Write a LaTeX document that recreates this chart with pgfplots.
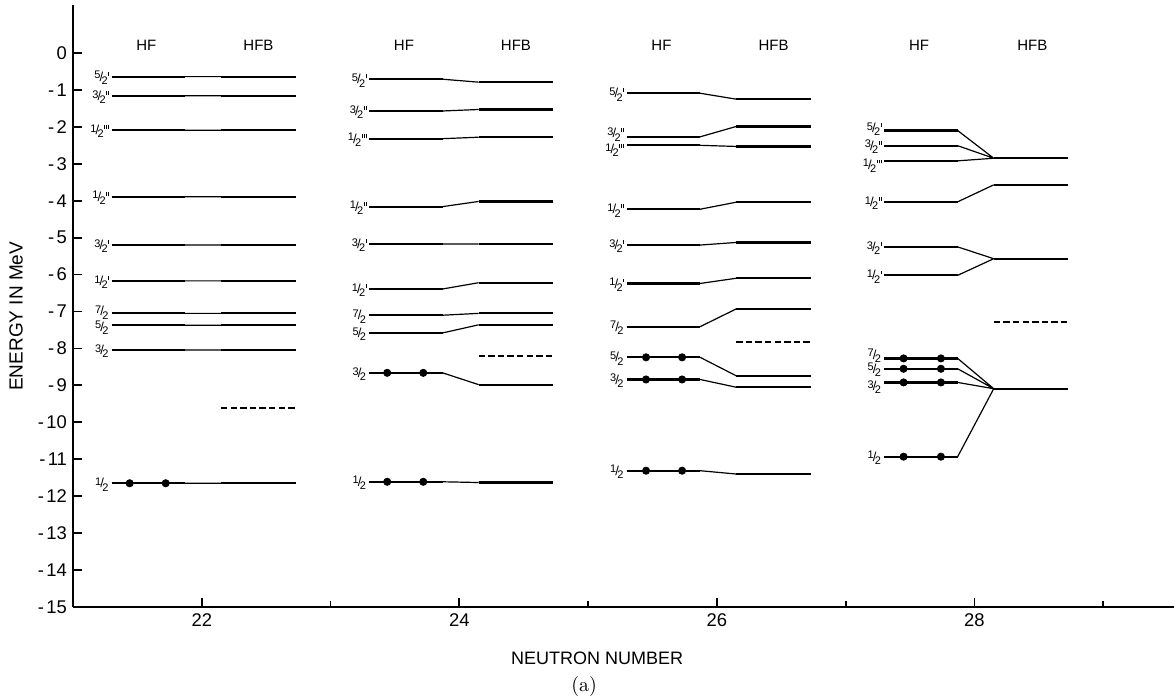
\documentclass[border=0pt]{standalone}
\usepackage{fontspec}
\setsansfont{Liberation Sans}
\usepackage{pgfplots}
\pgfplotsset{compat=1.18}
\usepackage{pgfplotstable}

\newcommand{\pp}{\rule{0.4pt}{1.9pt}}
\newcommand{\pa}{\pp}
\newcommand{\pb}{\pp\kern0.6pt\pp}
\newcommand{\pc}{\pp\kern0.6pt\pp\kern0.6pt\pp}
\newcommand{\fr}[2]{\sffamily\raisebox{1.2pt}{\fontsize{5.5}{5.5}\selectfont #1}\kern-0.45pt{\fontsize{6.5}{6.5}\selectfont /}\kern-0.8pt\raisebox{-1.6pt}{\fontsize{5.5}{5.5}\selectfont 2}\raisebox{2.8pt}{\kern0.2pt#2}}
\newcommand{\lab}[5][0]{\node[anchor=east,inner sep=0pt,xshift=-1.2pt,yshift=-0.6pt,yshift=#1pt] at (axis cs:#2,#3) {\fr{#4}{#5}};}
\newcommand{\m}{-\kern1.2pt}

% horizontal level segments (HF and HFB), nan rows break the line
\pgfplotstableread[row sep=\\]{
x y\\
21.30 -0.64\\ 21.87 -0.64\\ nan nan\\ 22.15 -0.64\\ 22.73 -0.64\\ nan nan\\
21.30 -1.16\\ 21.87 -1.16\\ nan nan\\ 22.15 -1.16\\ 22.73 -1.16\\ nan nan\\
21.30 -2.09\\ 21.87 -2.09\\ nan nan\\ 22.15 -2.09\\ 22.73 -2.09\\ nan nan\\
21.30 -3.89\\ 21.87 -3.89\\ nan nan\\ 22.15 -3.89\\ 22.73 -3.89\\ nan nan\\
21.30 -5.20\\ 21.87 -5.20\\ nan nan\\ 22.15 -5.20\\ 22.73 -5.20\\ nan nan\\
21.30 -6.17\\ 21.87 -6.17\\ nan nan\\ 22.15 -6.17\\ 22.73 -6.17\\ nan nan\\
21.30 -7.05\\ 21.87 -7.05\\ nan nan\\ 22.15 -7.05\\ 22.73 -7.05\\ nan nan\\
21.30 -7.37\\ 21.87 -7.37\\ nan nan\\ 22.15 -7.37\\ 22.73 -7.37\\ nan nan\\
21.30 -8.04\\ 21.87 -8.04\\ nan nan\\ 22.15 -8.04\\ 22.73 -8.04\\ nan nan\\
21.30 -11.65\\ 21.87 -11.65\\ nan nan\\ 22.15 -11.65\\ 22.73 -11.65\\ nan nan\\
23.30 -0.71\\ 23.87 -0.71\\ nan nan\\ 24.15 -0.79\\ 24.73 -0.79\\ nan nan\\
23.30 -1.57\\ 23.87 -1.57\\ nan nan\\ 24.15 -1.53\\ 24.73 -1.53\\ nan nan\\
23.30 -2.32\\ 23.87 -2.32\\ nan nan\\ 24.15 -2.28\\ 24.73 -2.28\\ nan nan\\
23.30 -4.16\\ 23.87 -4.16\\ nan nan\\ 24.15 -4.02\\ 24.73 -4.02\\ nan nan\\
23.30 -5.17\\ 23.87 -5.17\\ nan nan\\ 24.15 -5.17\\ 24.73 -5.17\\ nan nan\\
23.30 -6.39\\ 23.87 -6.39\\ nan nan\\ 24.15 -6.22\\ 24.73 -6.22\\ nan nan\\
23.30 -7.10\\ 23.87 -7.10\\ nan nan\\ 24.15 -7.05\\ 24.73 -7.05\\ nan nan\\
23.30 -7.58\\ 23.87 -7.58\\ nan nan\\ 24.15 -7.36\\ 24.73 -7.36\\ nan nan\\
23.30 -8.66\\ 23.87 -8.66\\ nan nan\\ 24.15 -8.98\\ 24.73 -8.98\\ nan nan\\
23.30 -11.61\\ 23.87 -11.61\\ nan nan\\ 24.15 -11.63\\ 24.73 -11.63\\ nan nan\\
25.30 -1.09\\ 25.87 -1.09\\ nan nan\\ 26.15 -1.25\\ 26.73 -1.25\\ nan nan\\
25.30 -2.27\\ 25.87 -2.27\\ nan nan\\ 26.15 -1.99\\ 26.73 -1.99\\ nan nan\\
25.30 -2.50\\ 25.87 -2.50\\ nan nan\\ 26.15 -2.53\\ 26.73 -2.53\\ nan nan\\
25.30 -4.23\\ 25.87 -4.23\\ nan nan\\ 26.15 -4.04\\ 26.73 -4.04\\ nan nan\\
25.30 -5.20\\ 25.87 -5.20\\ nan nan\\ 26.15 -5.13\\ 26.73 -5.13\\ nan nan\\
25.30 -6.24\\ 25.87 -6.24\\ nan nan\\ 26.15 -6.10\\ 26.73 -6.10\\ nan nan\\
25.30 -7.41\\ 25.87 -7.41\\ nan nan\\ 26.15 -6.93\\ 26.73 -6.93\\ nan nan\\
25.30 -8.24\\ 25.87 -8.24\\ nan nan\\ 26.15 -8.74\\ 26.73 -8.74\\ nan nan\\
25.30 -8.84\\ 25.87 -8.84\\ nan nan\\ 26.15 -9.05\\ 26.73 -9.05\\ nan nan\\
25.30 -11.31\\ 25.87 -11.31\\ nan nan\\ 26.15 -11.40\\ 26.73 -11.40\\ nan nan\\
27.30 -2.10\\ 27.87 -2.10\\ nan nan\\
27.30 -2.51\\ 27.87 -2.51\\ nan nan\\
27.30 -2.92\\ 27.87 -2.92\\ nan nan\\ 28.15 -2.85\\ 28.73 -2.85\\ nan nan\\
27.30 -4.03\\ 27.87 -4.03\\ nan nan\\ 28.15 -3.57\\ 28.73 -3.57\\ nan nan\\
27.30 -5.25\\ 27.87 -5.25\\ nan nan\\
27.30 -6.02\\ 27.87 -6.02\\ nan nan\\ 28.15 -5.57\\ 28.73 -5.57\\ nan nan\\
27.30 -8.27\\ 27.87 -8.27\\ nan nan\\
27.30 -8.55\\ 27.87 -8.55\\ nan nan\\
27.30 -8.92\\ 27.87 -8.92\\ nan nan\\
27.30 -10.93\\ 27.87 -10.93\\ nan nan\\ 28.15 -9.09\\ 28.73 -9.09\\
}\levels

% connectors HF end -> HFB start
\pgfplotstableread[row sep=\\]{
x y\\
21.87 -0.64\\ 22.15 -0.64\\ nan nan\\ 21.87 -1.16\\ 22.15 -1.16\\ nan nan\\
21.87 -2.09\\ 22.15 -2.09\\ nan nan\\ 21.87 -3.89\\ 22.15 -3.89\\ nan nan\\
21.87 -5.20\\ 22.15 -5.20\\ nan nan\\ 21.87 -6.17\\ 22.15 -6.17\\ nan nan\\
21.87 -7.05\\ 22.15 -7.05\\ nan nan\\ 21.87 -7.37\\ 22.15 -7.37\\ nan nan\\
21.87 -8.04\\ 22.15 -8.04\\ nan nan\\ 21.87 -11.65\\ 22.15 -11.65\\ nan nan\\
23.87 -0.71\\ 24.15 -0.79\\ nan nan\\ 23.87 -1.57\\ 24.15 -1.53\\ nan nan\\
23.87 -2.32\\ 24.15 -2.28\\ nan nan\\ 23.87 -4.16\\ 24.15 -4.02\\ nan nan\\
23.87 -5.17\\ 24.15 -5.17\\ nan nan\\ 23.87 -6.39\\ 24.15 -6.22\\ nan nan\\
23.87 -7.10\\ 24.15 -7.05\\ nan nan\\ 23.87 -7.58\\ 24.15 -7.36\\ nan nan\\
23.87 -8.66\\ 24.15 -8.98\\ nan nan\\ 23.87 -11.61\\ 24.15 -11.63\\ nan nan\\
25.87 -1.09\\ 26.15 -1.25\\ nan nan\\ 25.87 -2.27\\ 26.15 -1.99\\ nan nan\\
25.87 -2.50\\ 26.15 -2.53\\ nan nan\\ 25.87 -4.23\\ 26.15 -4.04\\ nan nan\\
25.87 -5.20\\ 26.15 -5.13\\ nan nan\\ 25.87 -6.24\\ 26.15 -6.10\\ nan nan\\
25.87 -7.41\\ 26.15 -6.93\\ nan nan\\ 25.87 -8.24\\ 26.15 -8.74\\ nan nan\\
25.87 -8.84\\ 26.15 -9.05\\ nan nan\\ 25.87 -11.31\\ 26.15 -11.40\\ nan nan\\
27.87 -2.10\\ 28.15 -2.85\\ nan nan\\ 27.87 -2.51\\ 28.15 -2.85\\ nan nan\\
27.87 -2.92\\ 28.15 -2.85\\ nan nan\\ 27.87 -4.03\\ 28.15 -3.57\\ nan nan\\
27.87 -5.25\\ 28.15 -5.57\\ nan nan\\ 27.87 -6.02\\ 28.15 -5.57\\ nan nan\\
27.87 -8.27\\ 28.15 -9.09\\ nan nan\\ 27.87 -8.55\\ 28.15 -9.09\\ nan nan\\
27.87 -8.92\\ 28.15 -9.09\\ nan nan\\ 27.87 -10.93\\ 28.15 -9.09\\
}\connectors

% dashed HFB lines
\pgfplotstableread[row sep=\\]{
x y\\
22.15 -9.62\\ 22.73 -9.62\\ nan nan\\
24.15 -8.20\\ 24.73 -8.20\\ nan nan\\
26.15 -7.83\\ 26.73 -7.83\\ nan nan\\
28.15 -7.28\\ 28.73 -7.28\\
}\dashedlv

% occupied levels (dots)
\pgfplotstableread[row sep=\\]{
x y\\
21.44 -11.65\\ 21.72 -11.65\\
23.44 -8.66\\ 23.72 -8.66\\ 23.44 -11.61\\ 23.72 -11.61\\
25.45 -8.24\\ 25.73 -8.24\\ 25.45 -8.84\\ 25.73 -8.84\\ 25.45 -11.31\\ 25.73 -11.31\\
27.45 -8.27\\ 27.74 -8.27\\ 27.45 -8.55\\ 27.74 -8.55\\ 27.45 -8.92\\ 27.74 -8.92\\ 27.45 -10.93\\ 27.74 -10.93\\
}\dotsdata

\begin{document}
\begin{tikzpicture}
\begin{axis}[name=ax, scale only axis, width=550.5pt, height=301pt,
  xmin=21, xmax=29.55, ymin=-15, ymax=1.3,
  axis lines=left, axis line style={-, line width=1pt},
  tick align=inside, major tick length=4.5pt, minor tick length=3pt,
  xtick={22,24,26,28}, xticklabels={22,24,26,28}, minor xtick={23,25,27,29},
  ytick={0,-1,-2,-3,-4,-5,-6,-7,-8,-9,-10,-11,-12,-13,-14,-15},
  yticklabels={0,\m1,\m2,\m3,\m4,\m5,\m6,\m7,\m8,\m9,\m10,\m11,\m12,\m13,\m14,\m15},
  tick style={line width=0.9pt, black},
  ticklabel style={font=\sffamily\fontsize{9.2}{9.2}\selectfont},
  yticklabel style={xshift=0.5pt},
  clip=false, unbounded coords=jump]

\addplot[black, line width=0.6pt] table[x=x,y=y] {\connectors};
\addplot[black, line width=1.1pt] table[x=x,y=y] {\levels};
\addplot[black, line width=1.1pt, dash pattern=on 3.2pt off 1.6pt] table[x=x,y=y] {\dashedlv};
\addplot[black, only marks, mark=*, mark size=1.8pt] table[x=x,y=y] {\dotsdata};

% headers
\node[font=\sffamily\fontsize{7.5}{7.5}\selectfont] at (axis cs:21.57,0.22) {HF};
\node[font=\sffamily\fontsize{7.5}{7.5}\selectfont] at (axis cs:22.44,0.22) {HFB};
\node[font=\sffamily\fontsize{7.5}{7.5}\selectfont] at (axis cs:23.57,0.22) {HF};
\node[font=\sffamily\fontsize{7.5}{7.5}\selectfont] at (axis cs:24.44,0.22) {HFB};
\node[font=\sffamily\fontsize{7.5}{7.5}\selectfont] at (axis cs:25.57,0.22) {HF};
\node[font=\sffamily\fontsize{7.5}{7.5}\selectfont] at (axis cs:26.44,0.22) {HFB};
\node[font=\sffamily\fontsize{7.5}{7.5}\selectfont] at (axis cs:27.57,0.22) {HF};
\node[font=\sffamily\fontsize{7.5}{7.5}\selectfont] at (axis cs:28.45,0.22) {HFB};

% level labels
\lab{21.30}{-0.64}{5}{\pa}
\lab{21.30}{-1.16}{3}{\pb}
\lab{21.30}{-2.09}{1}{\pc}
\lab{21.30}{-3.89}{1}{\pb}
\lab{21.30}{-5.20}{3}{\pa}
\lab{21.30}{-6.17}{1}{\pa}
\lab[1]{21.30}{-7.05}{7}{}
\lab[-0.8]{21.30}{-7.37}{5}{}
\lab{21.30}{-8.04}{3}{}
\lab{21.30}{-11.65}{1}{}

\lab{23.30}{-0.71}{5}{\pa}
\lab{23.30}{-1.57}{3}{\pb}
\lab{23.30}{-2.32}{1}{\pc}
\lab{23.30}{-4.16}{1}{\pb}
\lab{23.30}{-5.17}{3}{\pa}
\lab{23.30}{-6.39}{1}{\pa}
\lab{23.30}{-7.10}{7}{}
\lab{23.30}{-7.58}{5}{}
\lab{23.30}{-8.66}{3}{}
\lab{23.30}{-11.61}{1}{}

\lab{25.30}{-1.09}{5}{\pa}
\lab[1.8]{25.30}{-2.27}{3}{\pb}
\lab[-1.8]{25.30}{-2.50}{1}{\pc}
\lab{25.30}{-4.23}{1}{\pb}
\lab{25.30}{-5.20}{3}{\pa}
\lab{25.30}{-6.24}{1}{\pa}
\lab{25.30}{-7.41}{7}{}
\lab{25.30}{-8.24}{5}{}
\lab{25.30}{-8.84}{3}{}
\lab{25.30}{-11.31}{1}{}

\lab[1.2]{27.30}{-2.10}{5}{\pa}
\lab{27.30}{-2.51}{3}{\pb}
\lab[-1.8]{27.30}{-2.92}{1}{\pc}
\lab{27.30}{-4.03}{1}{\pb}
\lab{27.30}{-5.25}{3}{\pa}
\lab{27.30}{-6.02}{1}{\pa}
\lab[2]{27.30}{-8.27}{7}{}
\lab{27.30}{-8.55}{5}{}
\lab[-1.8]{27.30}{-8.92}{3}{}
\lab{27.30}{-10.93}{1}{}

\coordinate (yl) at (axis cs:21,-7.13);
\coordinate (xl) at (axis cs:25.07,-15);
\coordinate (al) at (axis cs:24.97,-15);
\end{axis}
\node[rotate=90, font=\sffamily\fontsize{9.5}{9.5}\selectfont] at ([xshift=-28.5pt]yl) {ENERGY IN MeV};
\node[font=\sffamily\fontsize{9}{9}\selectfont] at ([yshift=-25.5pt]xl) {NEUTRON NUMBER};
\node[font=\fontsize{10}{10}\selectfont] at ([yshift=-40pt]al) {(a)};
\pgfresetboundingbox
\path ([xshift=-36.5pt,yshift=-45.5pt]ax.south west) rectangle ([yshift=2.5pt]ax.north east);
\end{tikzpicture}
\end{document}
